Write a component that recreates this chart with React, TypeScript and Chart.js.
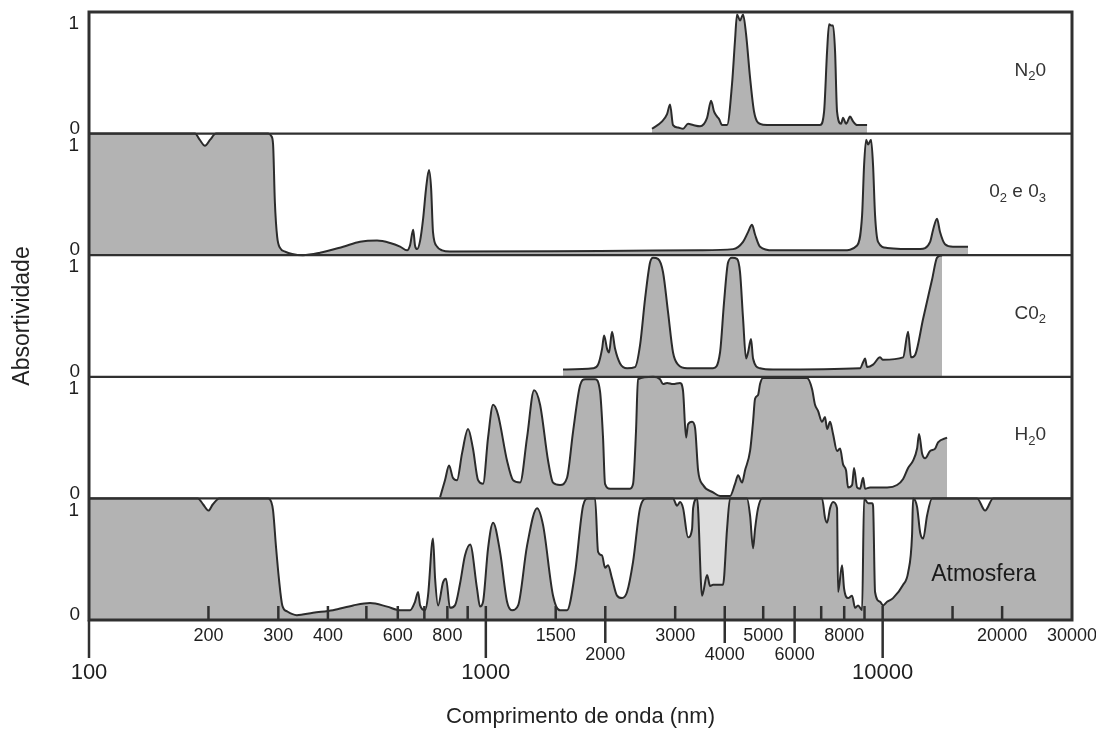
import React, { useEffect, useRef } from "react";
import { Chart, registerables } from "chart.js";

Chart.register(...registerables);

// ---- Data (wavelength in nm, absorptivity 0..1) ----
const n2oWavelength = [2623, 2781, 2862, 2912, 2963, 3051, 3141, 3233, 3329, 3467, 3610, 3695, 3760, 3826, 3870, 3938, 4054, 4173, 4246, 4296, 4371, 4448, 4526, 4633, 4742, 4909, 5113, 6954, 7118, 7244, 7328, 7413, 7499, 7586, 7675, 7855, 7947, 8087, 8277, 8423, 8621, 9135];
const n2oAbsorption = [0.04, 0.10, 0.16, 0.24, 0.07, 0.05, 0.04, 0.08, 0.07, 0.06, 0.13, 0.27, 0.18, 0.14, 0.12, 0.07, 0.07, 0.41, 0.77, 0.98, 0.93, 0.98, 0.82, 0.46, 0.18, 0.08, 0.07, 0.07, 0.18, 0.68, 0.90, 0.89, 0.89, 0.68, 0.18, 0.08, 0.13, 0.08, 0.14, 0.10, 0.07, 0.07];

const o2o3Wavelength = [100, 185, 190, 196, 202, 209, 283, 288, 291, 294, 298, 303, 312, 325, 346, 382, 437, 482, 532, 574, 608, 633, 644, 656, 663, 671, 683, 695, 707, 719, 728, 736, 754, 776, 812, 1940, 3467, 4198, 4448, 4579, 4686, 4769, 4909, 5294, 7947, 8621, 8875, 8978, 9084, 9189, 9349, 9458, 9568, 9737, 10260, 12430, 13170, 13400, 13710, 13950, 14360, 15040, 16410];
const o2o3Absorption = [1, 1, 0.95, 0.90, 0.95, 1, 1, 0.98, 0.91, 0.44, 0.15, 0.06, 0.03, 0.01, 0.0, 0.02, 0.07, 0.11, 0.12, 0.10, 0.07, 0.04, 0.08, 0.21, 0.08, 0.05, 0.12, 0.30, 0.55, 0.70, 0.55, 0.19, 0.07, 0.04, 0.03, 0.035, 0.04, 0.05, 0.11, 0.19, 0.25, 0.17, 0.07, 0.04, 0.04, 0.08, 0.33, 0.74, 0.95, 0.91, 0.95, 0.74, 0.33, 0.11, 0.06, 0.05, 0.11, 0.21, 0.30, 0.19, 0.09, 0.07, 0.07];

const co2Wavelength = [1565, 1863, 1918, 1963, 1986, 2021, 2044, 2080, 2117, 2179, 2269, 2377, 2447, 2519, 2593, 2639, 2716, 2796, 2879, 2963, 3051, 3215, 3738, 3892, 3983, 4077, 4173, 4296, 4371, 4448, 4526, 4579, 4659, 4714, 4909, 5294, 8770, 8926, 9028, 9135, 9458, 9849, 10020, 11260, 11590, 11790, 12070, 12650, 13320, 13710, 14110];
const co2Absorption = [0.06, 0.07, 0.10, 0.23, 0.34, 0.23, 0.20, 0.37, 0.23, 0.11, 0.07, 0.08, 0.26, 0.64, 0.94, 0.98, 0.97, 0.86, 0.53, 0.20, 0.10, 0.07, 0.07, 0.20, 0.61, 0.94, 0.98, 0.97, 0.86, 0.48, 0.15, 0.20, 0.31, 0.15, 0.07, 0.06, 0.07, 0.12, 0.15, 0.08, 0.10, 0.16, 0.14, 0.16, 0.37, 0.16, 0.18, 0.48, 0.80, 0.98, 1.0];

const h2oWavelength = [767, 789, 808, 826, 846, 871, 902, 928, 956, 984, 1013, 1043, 1073, 1131, 1171, 1220, 1270, 1323, 1370, 1435, 1477, 1538, 1602, 1659, 1728, 1778, 1885, 1940, 1974, 1997, 2056, 2309, 2350, 2390, 2418, 2639, 2748, 2796, 2862, 2963, 3086, 3141, 3196, 3233, 3309, 3367, 3427, 3527, 3738, 3892, 4125, 4246, 4321, 4422, 4499, 4633, 4714, 4769, 4853, 4909, 4994, 6448, 6638, 6754, 6873, 7035, 7157, 7244, 7370, 7499, 7675, 7810, 7947, 8087, 8181, 8374, 8471, 8621, 8770, 8926, 9028, 9292, 10260, 10870, 11260, 11590, 11930, 12210, 12350, 12570, 12790, 13170, 13560, 13790, 14530];
const h2oAbsorption = [0.01, 0.15, 0.27, 0.17, 0.15, 0.37, 0.57, 0.41, 0.15, 0.12, 0.50, 0.77, 0.69, 0.31, 0.15, 0.13, 0.50, 0.89, 0.77, 0.31, 0.13, 0.11, 0.17, 0.55, 0.93, 0.98, 0.98, 0.88, 0.50, 0.12, 0.08, 0.08, 0.12, 0.55, 0.98, 1.0, 0.98, 0.94, 0.95, 0.94, 0.95, 0.88, 0.50, 0.61, 0.63, 0.58, 0.23, 0.11, 0.05, 0.02, 0.02, 0.12, 0.19, 0.13, 0.23, 0.39, 0.63, 0.82, 0.85, 0.94, 0.99, 0.99, 0.90, 0.77, 0.72, 0.63, 0.67, 0.57, 0.63, 0.53, 0.39, 0.41, 0.28, 0.23, 0.09, 0.11, 0.25, 0.09, 0.08, 0.17, 0.08, 0.09, 0.09, 0.11, 0.16, 0.25, 0.31, 0.41, 0.53, 0.37, 0.33, 0.39, 0.41, 0.46, 0.50];

const atmWavelength = [100, 188, 194, 200, 205, 213, 283, 288, 291, 296, 301, 307, 316, 334, 367, 412, 463, 511, 564, 608, 644, 663, 675, 683, 703, 715, 736, 745, 758, 780, 794, 812, 836, 861, 886, 913, 950, 967, 984, 1013, 1043, 1086, 1131, 1164, 1206, 1270, 1346, 1394, 1477, 1538, 1602, 1678, 1758, 1809, 1885, 1918, 1963, 1997, 2032, 2080, 2141, 2204, 2269, 2350, 2447, 2548, 2963, 3033, 3086, 3141, 3233, 3309, 3329, 3407, 3507, 3610, 3673, 3738, 3960, 4054, 4125, 4552, 4633, 4714, 4769, 4853, 4966, 7035, 7157, 7244, 7370, 7499, 7675, 7720, 7900, 7993, 8181, 8374, 8521, 8670, 8875, 8978, 9189, 9404, 9458, 9568, 9849, 10020, 10260, 10620, 11260, 11590, 11860, 11930, 12210, 12430, 12650, 12940, 13320, 17300, 18120, 18980, 30000];
const atmAbsorption = [1, 1, 0.95, 0.90, 0.95, 1, 1, 0.97, 0.90, 0.60, 0.34, 0.12, 0.07, 0.04, 0.06, 0.08, 0.12, 0.14, 0.11, 0.08, 0.08, 0.15, 0.23, 0.12, 0.08, 0.20, 0.67, 0.34, 0.12, 0.31, 0.34, 0.10, 0.12, 0.30, 0.53, 0.62, 0.26, 0.11, 0.15, 0.59, 0.80, 0.56, 0.15, 0.08, 0.12, 0.61, 0.92, 0.78, 0.20, 0.08, 0.08, 0.39, 0.94, 1.0, 1.0, 0.56, 0.53, 0.43, 0.45, 0.34, 0.20, 0.18, 0.23, 0.48, 0.92, 1.0, 1.0, 0.94, 0.97, 0.92, 0.68, 0.75, 0.92, 1.0, 0.20, 0.37, 0.28, 0.29, 0.29, 0.75, 1.0, 1.0, 0.86, 0.59, 0.75, 0.92, 1.0, 1.0, 0.84, 0.80, 0.92, 0.97, 0.92, 0.23, 0.45, 0.26, 0.18, 0.20, 0.10, 0.12, 0.08, 1.0, 0.96, 0.96, 0.94, 0.23, 0.15, 0.12, 0.15, 0.18, 0.29, 0.39, 0.70, 1.0, 0.93, 0.72, 0.67, 0.86, 1.0, 1.0, 0.90, 1.0, 1.0];

// partially transparent window of the atmosphere (light shading above the curve)
const atmWindowRange = [3407, 4125];

// panels from bottom (0) to top (4)
const panelNames = ["Atmosfera", "H₂0", "C0₂", "0₂ e 0₃", "N₂0"];

// x-axis ticks and labels
const innerTickValues = [200, 300, 400, 500, 600, 700, 800, 900, 1000, 1500, 2000, 3000, 4000, 5000, 6000, 7000, 8000, 9000, 10000, 15000, 20000];
const midTickValues = [2000, 4000, 6000];
const decadeTickValues = [100, 1000, 10000];
const upperTickLabels = [200, 300, 400, 600, 800, 1500, 3000, 5000, 8000, 20000, 30000];
const lowerTickLabels = [2000, 4000, 6000];
const decadeTickLabels = [100, 1000, 10000];

const FONT = '"Liberation Sans", Arial, Helvetica, sans-serif';
const FILL = "#b3b3b3";
const WINDOW_FILL = "#dedede";
const LINE = "#2b2b2b";

function drawChem(ctx: CanvasRenderingContext2D, text: string, rightX: number, cy: number, size: number) {
  const subMap: Record<string, string> = { "₂": "2", "₃": "3" };
  const parts = Array.from(text).map((ch) => (subMap[ch] ? { t: subMap[ch], sub: true } : { t: ch, sub: false }));
  const mainFont = `${size}px ${FONT}`;
  const subFont = `${Math.round(size * 0.7)}px ${FONT}`;
  let total = 0;
  const widths = parts.map((p) => {
    ctx.font = p.sub ? subFont : mainFont;
    const w = ctx.measureText(p.t).width;
    total += w;
    return w;
  });
  let x = rightX - total;
  ctx.textAlign = "left";
  ctx.textBaseline = "middle";
  parts.forEach((p, i) => {
    ctx.font = p.sub ? subFont : mainFont;
    ctx.fillText(p.t, x, p.sub ? cy + size * 0.32 : cy);
    x += widths[i];
  });
}

const overlayPlugin = {
  id: "panelOverlay",
  afterDatasetsDraw(chart: any) {
    const { ctx, chartArea: area, scales } = chart;
    const xs = scales.x;
    const ys = scales.y;
    ctx.save();
    // panel separators
    ctx.strokeStyle = "#303030";
    ctx.lineWidth = 2.2;
    ctx.beginPath();
    for (let p = 1; p < panelNames.length; p++) {
      const py = ys.getPixelForValue(p);
      ctx.moveTo(area.left, py);
      ctx.lineTo(area.right, py);
    }
    ctx.stroke();
    // frame
    ctx.lineWidth = 3;
    ctx.strokeRect(area.left, area.top, area.right - area.left, area.bottom - area.top);
    // x ticks
    ctx.lineWidth = 2.5;
    ctx.beginPath();
    innerTickValues.forEach((v) => {
      const px = xs.getPixelForValue(v);
      ctx.moveTo(px, area.bottom);
      ctx.lineTo(px, area.bottom - 14);
    });
    midTickValues.forEach((v) => {
      const px = xs.getPixelForValue(v);
      ctx.moveTo(px, area.bottom);
      ctx.lineTo(px, area.bottom + 23);
    });
    decadeTickValues.forEach((v) => {
      const px = xs.getPixelForValue(v);
      ctx.moveTo(px, area.bottom);
      ctx.lineTo(px, area.bottom + 38);
    });
    ctx.stroke();
    // x tick labels
    ctx.fillStyle = "#1e1e1e";
    ctx.textAlign = "center";
    ctx.textBaseline = "middle";
    ctx.font = `18px ${FONT}`;
    upperTickLabels.forEach((v) => ctx.fillText(String(v), xs.getPixelForValue(v), area.bottom + 16));
    lowerTickLabels.forEach((v) => ctx.fillText(String(v), xs.getPixelForValue(v), area.bottom + 35));
    ctx.font = `22px ${FONT}`;
    decadeTickLabels.forEach((v) => ctx.fillText(String(v), xs.getPixelForValue(v), area.bottom + 53));
    // y labels 0 / 1 per panel
    ctx.font = `19px ${FONT}`;
    ctx.textAlign = "right";
    for (let p = 0; p < panelNames.length; p++) {
      ctx.fillText("0", area.left - 9, ys.getPixelForValue(p) - 5);
      ctx.fillText("1", area.left - 10, ys.getPixelForValue(p + 1) + 12);
    }
    // panel names
    ctx.fillStyle = "#333";
    for (let p = 1; p < panelNames.length; p++) {
      drawChem(ctx, panelNames[p], area.right - 26, ys.getPixelForValue(p + 0.52), 19);
    }
    ctx.fillStyle = "#1a1a1a";
    ctx.font = `23px ${FONT}`;
    ctx.textAlign = "right";
    ctx.textBaseline = "middle";
    ctx.fillText(panelNames[0], area.right - 36, ys.getPixelForValue(0.37));
    ctx.restore();
  },
};

function series(wl: number[], ab: number[], panel: number) {
  return {
    data: wl.map((x, i) => ({ x, y: panel + ab[i] })),
    fill: { value: panel },
    backgroundColor: FILL,
    borderColor: LINE,
    borderWidth: 2,
    pointRadius: 0,
    cubicInterpolationMode: "monotone" as const,
  };
}

function windowShade() {
  const pts = atmWavelength
    .map((x, i) => ({ x, y: atmAbsorption[i] }))
    .filter((p) => p.x >= atmWindowRange[0] && p.x <= atmWindowRange[1]);
  return {
    data: pts,
    fill: { value: 1 },
    backgroundColor: WINDOW_FILL,
    borderWidth: 0,
    borderColor: "rgba(0,0,0,0)",
    pointRadius: 0,
    cubicInterpolationMode: "monotone" as const,
  };
}

export default function App() {
  const ref = useRef<HTMLCanvasElement | null>(null);
  useEffect(() => {
    if (!ref.current) return;
    const chart = new Chart(ref.current, {
      type: "line",
      data: {
        datasets: [
          series(atmWavelength, atmAbsorption, 0),
          series(h2oWavelength, h2oAbsorption, 1),
          series(co2Wavelength, co2Absorption, 2),
          series(o2o3Wavelength, o2o3Absorption, 3),
          series(n2oWavelength, n2oAbsorption, 4),
          windowShade(),
        ] as any,
      },
      options: {
        animation: false,
        responsive: true,
        maintainAspectRatio: false,
        layout: { padding: { left: 0, right: 24, top: 4, bottom: 0 } },
        plugins: { legend: { display: false }, tooltip: { enabled: false } },
        scales: {
          x: {
            type: "logarithmic",
            min: 100,
            max: 30000,
            ticks: { display: false },
            grid: { display: false, drawTicks: false },
            border: { display: false },
            title: {
              display: true,
              text: "Comprimento de onda (nm)",
              color: "#222",
              font: { family: FONT, size: 22, lineHeight: 1 },
              padding: 0,
            },
            afterFit: (s: any) => {
              s.height = 108;
            },
          },
          y: {
            type: "linear",
            min: 0,
            max: 5,
            ticks: { display: false },
            grid: { display: false, drawTicks: false },
            border: { display: false },
            title: {
              display: true,
              text: "Absortividade",
              color: "#222",
              font: { family: FONT, size: 23, lineHeight: 1 },
              padding: { top: 3, bottom: 0 },
            },
            afterFit: (s: any) => {
              s.width = 81;
            },
          },
        },
      } as any,
      plugins: [overlayPlugin],
    });
    return () => chart.destroy();
  }, []);
  return (
    <div style={{ width: 1088, height: 720, position: "relative", background: "#fff" }}>
      <canvas ref={ref} />
    </div>
  );
}
